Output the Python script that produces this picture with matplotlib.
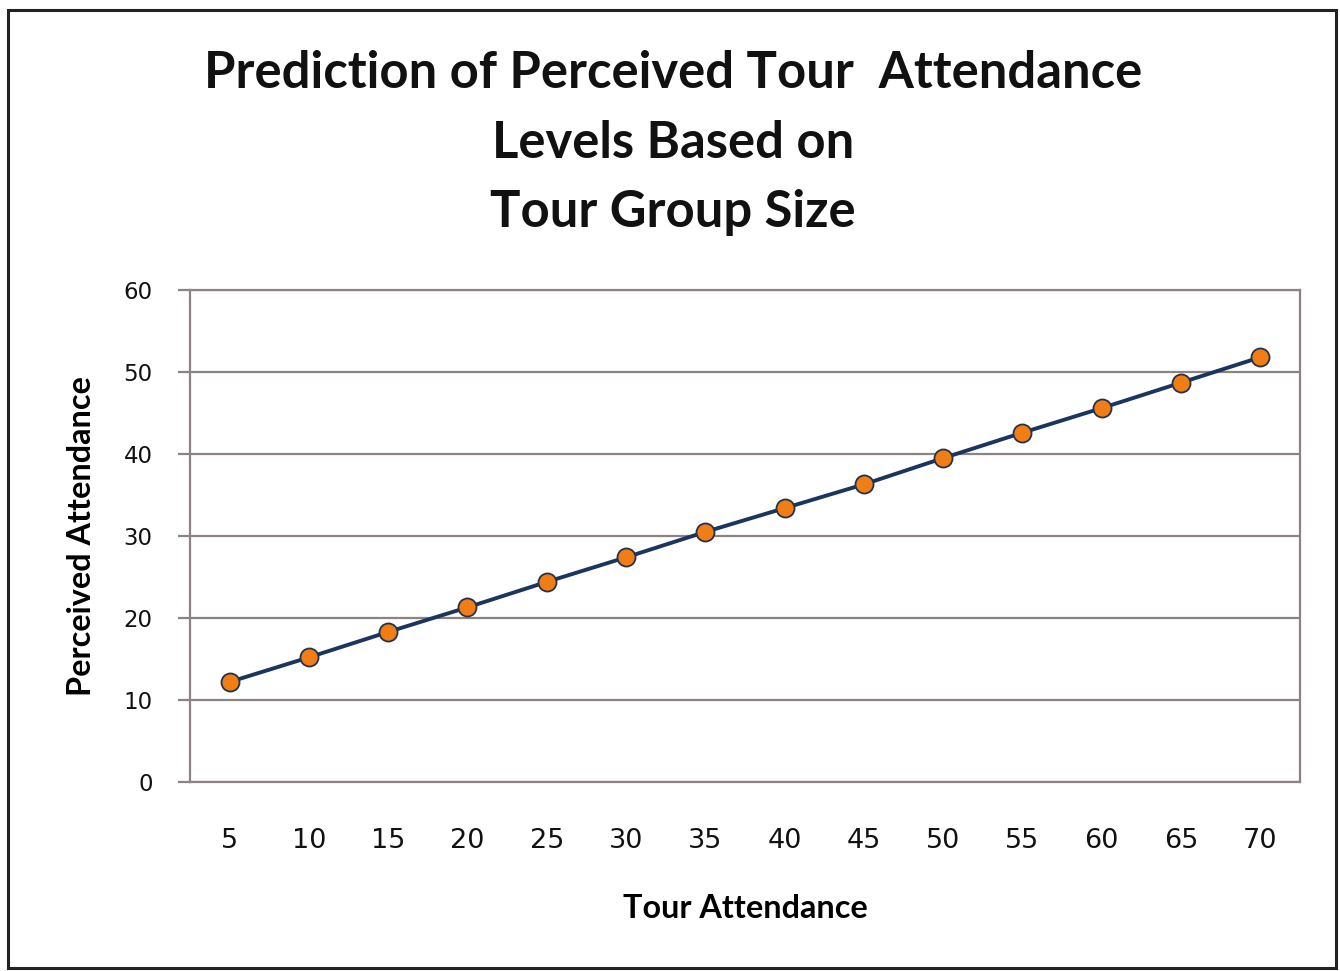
import matplotlib
matplotlib.use("Agg")
import matplotlib.pyplot as plt
from matplotlib.patches import Rectangle

# Data
tour_attendance = [5, 10, 15, 20, 25, 30, 35, 40, 45, 50, 55, 60, 65, 70]
perceived = [12.2, 15.2, 18.3, 21.3, 24.4, 27.4, 30.5, 33.4, 36.3, 39.5, 42.6, 45.6, 48.7, 51.8]
y_ticks = [0, 10, 20, 30, 40, 50, 60]

title = "Prediction of Perceived Tour  Attendance\nLevels Based on\nTour Group Size"

plt.rcParams['font.family'] = ['Lato', 'DejaVu Sans']

fig = plt.figure(figsize=(13.4, 9.71), dpi=100)
fig.patch.set_facecolor("white")

# Outer chart border
fig.patches.append(Rectangle((8/1340, 3/971), 1328/1340, 958/971, transform=fig.transFigure,
                             fill=False, edgecolor="#222222", linewidth=2.2))

ax = fig.add_axes([190/1340, 1 - 782/971, 1110/1340, 492/971])

grid_color = "#8c8282"
xpos = list(range(len(tour_attendance)))
ax.plot(xpos, perceived, color="#1b355e", linewidth=2.8, zorder=3,
        marker="o", markersize=13, markerfacecolor="#f07e14",
        markeredgecolor="#27314a", markeredgewidth=1.3)

ax.set_xlim(-0.5, len(tour_attendance) - 0.5)
ax.set_ylim(0, 60)
ax.set_yticks(y_ticks)
ax.set_xticks(xpos)
ax.set_xticklabels([str(v) for v in tour_attendance])
ax.yaxis.grid(True, color=grid_color, linewidth=1.6)
ax.set_axisbelow(True)

for side in ["left", "bottom", "right", "top"]:
    ax.spines[side].set_color(grid_color)
    ax.spines[side].set_linewidth(1.6)

ax.tick_params(axis="y", length=9, width=1.6, color=grid_color, labelsize=16.5,
               pad=18, labelcolor="#111111")
ax.tick_params(axis="x", length=0, labelsize=19.5, pad=33, labelcolor="#111111")
for lbl in ax.get_xticklabels() + ax.get_yticklabels():
    lbl.set_fontfamily("DejaVu Sans")

ax.set_xlabel("Tour Attendance", fontsize=23.3, fontweight="bold", labelpad=29)
ax.set_ylabel("Perceived Attendance", fontsize=23.3, fontweight="bold", labelpad=20)

fig.text(673/1340, 1 - 143/971, title, ha="center", va="center",
         fontsize=36.5, fontweight="bold", linespacing=1.58, color="#111111")

fig.savefig("out.png", dpi=100, facecolor="white")
